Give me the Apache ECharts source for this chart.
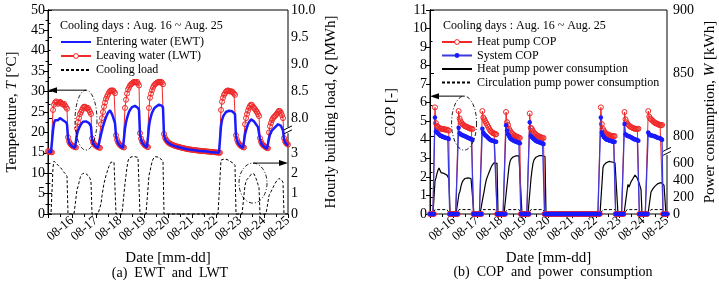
<!DOCTYPE html>
<html><head><meta charset="utf-8">
<script src="https://cdn.jsdelivr.net/npm/echarts@6/dist/echarts.min.js"></script>
<style>html,body{margin:0;padding:0;background:#fff}#c{width:719px;height:288px}</style>
</head><body><div id="c"></div>
<script>
// ---------- tick labels ----------
const dateLabels = ['', '08-16', '08-17', '08-18', '08-19', '08-20', '08-21', '08-22', '08-23', '08-24', '08-25'];
const tempTicks = {min: 0, max: 50, step: 5};
// operating days (index of 24 h block) and first operating hour of each day
const opDays = [0, 1, 2, 3, 4, 7, 8, 9];
const opFirstHour = 5;

// ---------- (a) hourly temperatures, hour 0..240 ----------
const ewt = [
  15.3, 15.2, 15.1, 15.1, 15.0, 20.5, 22.3, 23.0, 23.3, 23.2, 23.0, 23.3, 23.5, 23.4, 23.2, 23.0, 23.2, 22.8, 22.5, 22.0, 18.5, 17.6, 17.1, 16.8,
  16.6, 16.4, 16.3, 16.2, 16.1, 19.5, 20.5, 21.0, 21.5, 22.0, 22.3, 22.6, 22.8, 22.8, 22.7, 22.5, 22.6, 22.3, 22.0, 21.5, 18.2, 17.4, 17.0, 16.7,
  16.5, 16.3, 16.2, 16.1, 16.0, 19.5, 20.5, 21.5, 22.3, 23.0, 23.7, 24.3, 24.8, 25.2, 25.4, 25.0, 24.5, 23.8, 23.0, 22.3, 19.0, 18.0, 17.4, 17.0,
  16.7, 16.5, 16.3, 16.2, 16.1, 21.0, 22.5, 23.5, 24.3, 25.0, 25.5, 25.8, 26.2, 26.4, 26.5, 26.5, 26.3, 26.4, 26.0, 25.5, 19.5, 18.3, 17.6, 17.2,
  16.9, 16.6, 16.5, 16.3, 16.2, 21.5, 23.0, 24.0, 24.8, 25.3, 25.8, 26.0, 26.3, 26.5, 26.7, 26.8, 26.6, 26.8, 26.5, 26.0, 19.3, 18.5, 18.0, 17.7,
  17.5, 17.3, 17.1, 17.0, 16.9, 16.8, 16.7, 16.6, 16.55, 16.5, 16.4, 16.35, 16.3, 16.2, 16.15, 16.1, 16.05, 16.0, 15.95, 15.9, 15.85, 15.8, 15.78, 15.75,
  15.72, 15.7, 15.65, 15.6, 15.58, 15.55, 15.52, 15.5, 15.48, 15.45, 15.42, 15.4, 15.38, 15.35, 15.32, 15.3, 15.28, 15.25, 15.22, 15.2, 15.18, 15.15, 15.12, 15.1,
  15.08, 15.05, 15.03, 15.02, 15.0, 21.5, 23.0, 23.8, 24.3, 24.7, 25.0, 25.2, 25.3, 25.3, 25.2, 25.3, 25.2, 25.0, 24.8, 24.5, 19.0, 18.0, 17.4, 17.0,
  16.7, 16.5, 16.3, 16.2, 16.1, 19.5, 20.5, 21.3, 22.0, 22.5, 22.9, 23.2, 23.3, 23.0, 22.7, 22.4, 22.0, 21.7, 21.3, 21.0, 18.3, 17.5, 17.0, 16.7,
  16.5, 16.3, 16.1, 16.0, 15.9, 18.5, 19.5, 20.0, 20.5, 20.8, 21.0, 21.2, 21.5, 21.8, 22.0, 22.2, 22.0, 21.6, 21.0, 20.5, 18.3, 17.6, 17.2, 17.0,
  16.8
];
const lwt = [
  15.4, 15.3, 15.2, 15.2, 15.1, 25.5, 26.8, 27.3, 27.6, 27.4, 27.0, 27.2, 27.5, 27.3, 27.0, 26.8, 27.0, 26.6, 26.2, 25.8, 18.8, 17.8, 17.3, 17.0,
  16.8, 16.6, 16.5, 16.4, 16.3, 21.0, 22.5, 23.5, 24.5, 25.0, 25.5, 26.0, 26.3, 26.3, 26.0, 25.8, 26.0, 25.5, 25.0, 24.5, 18.5, 17.6, 17.2, 16.9,
  16.7, 16.5, 16.4, 16.3, 16.2, 22.0, 23.5, 25.0, 26.3, 27.3, 28.2, 28.8, 29.3, 29.8, 30.1, 30.3, 30.2, 30.3, 30.0, 29.6, 19.3, 18.2, 17.6, 17.2,
  16.9, 16.7, 16.5, 16.4, 16.3, 26.0, 28.0, 29.5, 30.5, 31.0, 31.5, 31.8, 32.0, 32.2, 32.4, 32.3, 32.2, 32.4, 32.0, 31.5, 19.8, 18.5, 17.8, 17.4,
  17.1, 16.8, 16.7, 16.5, 16.4, 26.0, 28.5, 29.5, 30.3, 31.0, 31.5, 31.8, 32.0, 32.2, 32.3, 32.4, 32.2, 32.4, 32.2, 31.8, 19.6, 18.7, 18.2, 17.9,
  17.6, 17.4, 17.2, 17.1, 17.0, 16.9, 16.8, 16.7, 16.6, 16.55, 16.5, 16.4, 16.35, 16.3, 16.2, 16.15, 16.1, 16.05, 16.0, 15.95, 15.9, 15.85, 15.8, 15.8,
  15.75, 15.72, 15.7, 15.65, 15.6, 15.58, 15.55, 15.52, 15.5, 15.48, 15.45, 15.42, 15.4, 15.38, 15.35, 15.32, 15.3, 15.28, 15.25, 15.22, 15.2, 15.18, 15.15, 15.12,
  15.1, 15.08, 15.05, 15.03, 15.02, 25.5, 27.5, 28.5, 29.2, 29.6, 30.0, 30.2, 30.3, 30.2, 30.0, 30.1, 30.0, 29.8, 29.5, 29.2, 19.3, 18.2, 17.6, 17.2,
  16.9, 16.7, 16.5, 16.4, 16.3, 22.0, 23.5, 24.5, 25.3, 26.0, 26.5, 26.8, 26.7, 26.3, 26.0, 25.7, 25.3, 25.0, 24.5, 24.0, 18.6, 17.7, 17.2, 16.9,
  16.7, 16.5, 16.3, 16.2, 16.1, 20.0, 21.5, 22.3, 23.0, 23.5, 23.8, 24.0, 24.3, 24.6, 25.0, 25.3, 25.2, 24.8, 24.2, 23.5, 18.6, 17.8, 17.4, 17.2,
  17.0
];
// hourly cooling load [MWh] during operating hours (5..19) of each operating day
const coolingLoad = [
  [2.3, 2.6, 2.55, 2.5, 2.45, 2.4, 2.35, 2.3, 2.25, 2.2, 2.1, 2.05, 2.0, 1.92, 1.85],
  [1.2, 1.35, 1.55, 1.75, 1.9, 1.98, 2.0, 2.0, 2.0, 1.98, 1.95, 1.9, 1.85, 1.75, 1.6],
  [0.5, 0.9, 1.2, 1.5, 1.7, 1.9, 2.05, 2.2, 2.35, 2.45, 2.55, 2.6, 2.6, 2.55, 2.5],
  [1.5, 1.9, 2.3, 2.6, 2.75, 2.8, 2.82, 2.82, 2.82, 2.8, 2.82, 2.8, 2.8, 2.78, 2.75],
  [1.9, 2.1, 2.35, 2.55, 2.7, 2.78, 2.82, 2.82, 2.8, 2.8, 2.78, 2.75, 2.7, 2.65, 2.6],
  [2.65, 2.7, 2.7, 2.7, 2.68, 2.7, 2.68, 2.65, 2.65, 2.6, 2.6, 2.55, 2.5, 2.45, 2.4],
  [1.4, 1.6, 1.7, 1.75, 1.8, 1.85, 1.95, 2.0, 2.02, 1.98, 1.9, 1.75, 1.6, 1.45, 1.3],
  [0.9, 1.0, 1.1, 1.2, 1.3, 1.4, 1.5, 1.58, 1.65, 1.7, 1.75, 1.75, 1.7, 1.65, 1.55]
];

// ---------- (b) COP and power during operating hours ----------
const heatPumpCop = [
  [5.75, 4.9, 4.75, 4.7, 4.65, 4.6, 4.6, 4.6, 4.58, 4.58, 4.55, 4.55, 4.55, 4.52, 4.5],
  [5.55, 5.15, 5.0, 4.9, 4.85, 4.8, 4.75, 4.72, 4.7, 4.68, 4.65, 4.62, 4.6, 4.6, 4.58],
  [5.55, 5.2, 5.1, 5.0, 4.9, 4.8, 4.7, 4.6, 4.5, 4.45, 4.4, 4.35, 4.35, 4.3, 4.3],
  [5.5, 4.95, 4.8, 4.6, 4.5, 4.4, 4.35, 4.3, 4.25, 4.2, 4.2, 4.15, 4.15, 4.1, 4.1],
  [5.42, 4.65, 4.6, 4.5, 4.4, 4.35, 4.3, 4.25, 4.2, 4.2, 4.15, 4.15, 4.12, 4.1, 4.1],
  [5.75, 4.85, 4.6, 4.5, 4.4, 4.35, 4.3, 4.3, 4.25, 4.25, 4.2, 4.2, 4.2, 4.2, 4.2],
  [5.5, 5.1, 4.95, 4.85, 4.8, 4.75, 4.7, 4.68, 4.65, 4.62, 4.6, 4.6, 4.58, 4.58, 4.6],
  [5.55, 5.25, 5.15, 5.1, 5.05, 5.0, 4.95, 4.9, 4.9, 4.85, 4.85, 4.8, 4.8, 4.78, 4.8]
];
const systemCop = [
  [5.2, 4.45, 4.4, 4.35, 4.3, 4.25, 4.2, 4.2, 4.15, 4.15, 4.12, 4.1, 4.1, 4.08, 4.05],
  [4.65, 4.35, 4.3, 4.28, 4.25, 4.22, 4.2, 4.18, 4.15, 4.12, 4.1, 4.08, 4.05, 4.03, 4.0],
  [4.6, 4.4, 4.3, 4.25, 4.2, 4.15, 4.1, 4.05, 4.0, 3.98, 3.95, 3.95, 3.92, 3.9, 3.9],
  [4.78, 4.5, 4.3, 4.2, 4.1, 4.05, 4.0, 3.98, 3.95, 3.92, 3.9, 3.88, 3.85, 3.85, 3.82],
  [4.95, 4.2, 4.15, 4.1, 4.05, 4.0, 3.95, 3.92, 3.9, 3.88, 3.85, 3.85, 3.82, 3.8, 3.78],
  [5.2, 4.4, 4.25, 4.15, 4.1, 4.05, 4.0, 4.0, 3.98, 3.95, 3.95, 3.92, 3.9, 3.9, 3.9],
  [4.85, 4.3, 4.25, 4.2, 4.2, 4.18, 4.15, 4.12, 4.1, 4.05, 4.05, 4.0, 4.0, 3.98, 3.95],
  [4.4, 4.3, 4.25, 4.25, 4.22, 4.2, 4.2, 4.18, 4.15, 4.12, 4.1, 4.1, 4.08, 4.05, 4.0]
];
const heatPumpPower = [
  [390, 430, 480, 520, 545, 530, 490, 475, 478, 480, 478, 470, 460, 440, 415],
  [240, 270, 330, 370, 395, 410, 420, 425, 428, 428, 425, 425, 420, 415, 400],
  [200, 260, 330, 390, 430, 460, 490, 520, 550, 575, 595, 605, 610, 605, 600],
  [340, 450, 560, 620, 650, 665, 675, 680, 685, 688, 690, 690, 688, 685, 680],
  [420, 520, 600, 640, 660, 672, 680, 685, 690, 690, 692, 690, 690, 688, 680],
  [550, 580, 595, 605, 612, 618, 622, 622, 620, 615, 612, 608, 605, 600, 595],
  [270, 350, 320, 350, 380, 400, 420, 440, 460, 450, 430, 400, 370, 330, 290],
  [260, 280, 300, 315, 330, 340, 350, 360, 365, 370, 372, 370, 360, 340, 320]
];
const circPumpPower = [52, 52, 52, 52, 52, 52, 52, 52]; // per operating day, constant level [kWh]

// ---------- build hourly [hour, value] lists (0 when the system is off) ----------
function hourlyFromOp(perDay) {
  const out = [];
  for (let h = 0; h <= 240; h++) out.push([h, 0]);
  opDays.forEach((d, i) => {
    const vals = Array.isArray(perDay[i]) ? perDay[i] : new Array(15).fill(perDay[i]);
    vals.forEach((v, j) => { out[24 * d + opFirstHour + j][1] = v; });
  });
  return out;
}
const toPairs = arr => arr.map((v, h) => [h, v]);

const F = '"Liberation Serif", "Times New Roman", serif';
const BLK = '#000';
const RED = '#f02828';
const BLUE = '#1a1aff';

const xBase = {type: 'value', min: 0, max: 240, interval: 24};
function bottomX(g) {
  return Object.assign({}, xBase, {
    gridIndex: g, position: 'bottom',
    name: 'Date [mm-dd]', nameLocation: 'middle', nameGap: 34,
    nameTextStyle: {fontFamily: F, fontSize: 15, color: BLK},
    axisLine: {show: false},
    axisTick: {show: true, length: 4, lineStyle: {color: BLK}},
    minorTick: {show: true, splitNumber: 2, length: 2.5, lineStyle: {color: BLK}},
    splitLine: {show: false},
    axisLabel: {fontFamily: F, fontSize: 13, color: BLK, rotate: 40, margin: 5,
      formatter: v => dateLabels[Math.round(v / 24)] || ''}
  });
}
function topX(g) {
  return Object.assign({}, xBase, {
    gridIndex: g, position: 'top', axisLine: {show: false}, axisLabel: {show: false},
    axisTick: {show: true, inside: true, length: 3, lineStyle: {color: BLK}},
    minorTick: {show: true, splitNumber: 2, length: 3, lineStyle: {color: BLK}},
    splitLine: {show: false}
  });
}
function hiddenX(g) { return Object.assign({}, xBase, {gridIndex: g, show: false}); }

const nameStyle = {fontFamily: F, fontSize: 15, color: BLK, rich: {i: {fontFamily: F, fontSize: 15, fontStyle: 'italic', color: BLK}}};
function yAx(g, pos, min, max, interval, minor, fmt, extra) {
  return Object.assign({
    type: 'value', gridIndex: g, position: pos, min: min, max: max, interval: interval,
    axisLine: {show: true, lineStyle: {color: BLK}},
    axisTick: {show: true, length: 4, lineStyle: {color: BLK}},
    minorTick: {show: minor > 0, splitNumber: minor || 1, length: 2.5, lineStyle: {color: BLK}},
    splitLine: {show: false},
    axisLabel: {fontFamily: F, fontSize: 14, color: BLK, margin: 3, formatter: fmt}
  }, extra || {});
}
function nameAx(g, pos, name, gap) {
  return {
    type: 'value', gridIndex: g, position: pos, min: 0, max: 1,
    axisLine: {show: false}, axisTick: {show: false}, axisLabel: {show: false}, splitLine: {show: false},
    name: name, nameLocation: 'middle', nameGap: gap, nameRotate: 90, nameTextStyle: nameStyle
  };
}
const noSym = {itemStyle: {color: 'rgba(0,0,0,0)', borderColor: 'rgba(0,0,0,0)', borderWidth: 0, opacity: 0}};
const hollowSym = {itemStyle: {color: '#fff', borderColor: RED, borderWidth: 1}};

const option = {
  animation: false,
  backgroundColor: '#fff',
  textStyle: {fontFamily: F},
  grid: [
    {left: 48, top: 10, width: 240, height: 204, show: true, borderColor: BLK, borderWidth: 1},
    {left: 48, top: 10, width: 240, height: 108},
    {left: 48, top: 153, width: 240, height: 61},
    {left: 430, top: 10, width: 240, height: 204, show: true, borderColor: BLK, borderWidth: 1},
    {left: 430, top: 10, width: 240, height: 126.7},
    {left: 430, top: 163.3, width: 240, height: 50.7}
  ],
  xAxis: [bottomX(0), topX(0), hiddenX(1), hiddenX(2), bottomX(3), topX(3), hiddenX(4), hiddenX(5)],
  yAxis: [
    yAx(0, 'left', tempTicks.min, tempTicks.max, tempTicks.step, 2, null, {
      name: 'Temperature, {i|T} [°C]', nameLocation: 'middle', nameGap: 28, nameRotate: 90, nameTextStyle: nameStyle
    }),
    yAx(1, 'right', 8, 10, 0.5, 2, v => v.toFixed(1)),
    yAx(2, 'right', 0, 3, 1, 2, null),
    nameAx(0, 'right', 'Hourly building load, {i|Q} [MWh]', 36),
    yAx(3, 'left', 0, 11, 1, 0, null, {
      name: 'COP [-]', nameLocation: 'middle', nameGap: 31, nameRotate: 90, nameTextStyle: nameStyle
    }),
    yAx(4, 'right', 800, 900, 50, 2, null),
    yAx(5, 'right', 0, 600, 200, 2, null),
    nameAx(3, 'right', 'Power consumption, {i|W} [kWh]', 36)
  ],
  title: [
    {text: 'Cooling days : Aug. 16 ~ Aug. 25', left: 55, top: 15, textStyle: {fontFamily: F, fontSize: 12, fontWeight: 'normal', color: BLK}},
    {text: 'Cooling days : Aug. 16 ~ Aug. 25', left: 438, top: 15, textStyle: {fontFamily: F, fontSize: 12, fontWeight: 'normal', color: BLK}}
  ],
  legend: [
    {orient: 'vertical', left: 55, top: 31, itemWidth: 30, itemHeight: 6, itemGap: 2,
      textStyle: {fontFamily: F, fontSize: 12, color: BLK},
      data: [
        Object.assign({name: 'Entering water (EWT)'}, noSym),
        Object.assign({name: 'Leaving water (LWT)'}, hollowSym),
        Object.assign({name: 'Cooling load', lineStyle: {type: [3, 2]}}, noSym)
      ]},
    {orient: 'vertical', left: 436, top: 31, itemWidth: 30, itemHeight: 6, itemGap: 1.5,
      textStyle: {fontFamily: F, fontSize: 12, color: BLK},
      data: [
        Object.assign({name: 'Heat pump COP'}, hollowSym),
        {name: 'System COP'},
        Object.assign({name: 'Heat pump power consumption'}, noSym),
        Object.assign({name: 'Circulation pump power consumption', lineStyle: {type: [3, 2]}}, noSym)
      ]}
  ],
  series: [
    {name: 'Leaving water (LWT)', type: 'line', xAxisIndex: 0, yAxisIndex: 0, data: toPairs(lwt),
      symbol: 'circle', symbolSize: 5, z: 2,
      itemStyle: {color: 'rgba(255,255,255,0)', borderColor: RED, borderWidth: 1},
      lineStyle: {color: RED, width: 1}},
    {name: 'Entering water (EWT)', type: 'line', xAxisIndex: 0, yAxisIndex: 0, data: toPairs(ewt),
      symbol: 'none', z: 3, itemStyle: {color: BLUE}, lineStyle: {color: BLUE, width: 2.5}},
    {name: 'Cooling load', type: 'line', xAxisIndex: 3, yAxisIndex: 2, data: hourlyFromOp(coolingLoad),
      symbol: 'none', clip: false, itemStyle: {color: BLK}, lineStyle: {color: BLK, width: 1, type: [3, 2]}},
    {name: 'Heat pump power consumption', type: 'line', xAxisIndex: 7, yAxisIndex: 6, data: hourlyFromOp(heatPumpPower),
      symbol: 'none', clip: false, itemStyle: {color: BLK}, lineStyle: {color: BLK, width: 1.2}},
    {name: 'Circulation pump power consumption', type: 'line', xAxisIndex: 7, yAxisIndex: 6, data: hourlyFromOp(circPumpPower),
      symbol: 'none', clip: false, itemStyle: {color: BLK}, lineStyle: {color: BLK, width: 1, type: [3, 2]}},
    {name: 'Heat pump COP', type: 'line', xAxisIndex: 4, yAxisIndex: 4, data: hourlyFromOp(heatPumpCop),
      symbol: 'circle', symbolSize: 5,
      itemStyle: {color: 'rgba(255,255,255,0)', borderColor: RED, borderWidth: 1},
      lineStyle: {color: RED, width: 1}},
    {name: 'System COP', type: 'line', xAxisIndex: 4, yAxisIndex: 4, data: hourlyFromOp(systemCop),
      symbol: 'circle', symbolSize: 4.5, itemStyle: {color: BLUE}, lineStyle: {color: '#3a3ae0', width: 1.3}}
  ]
};

const chart = echarts.init(document.getElementById('c'));
chart.setOption(option);

// ---------- annotations (ellipses, arrows, axis breaks) ----------
function ellipse(cx, cy, rx, ry) {
  const pts = [];
  for (let i = 0; i < 60; i++) { const a = i / 60 * 2 * Math.PI; pts.push([cx + rx * Math.cos(a), cy + ry * Math.sin(a)]); }
  return {type: 'polygon', z: 50, shape: {points: pts}, style: {fill: 'none', stroke: BLK, lineWidth: 0.9, lineDash: [4, 2, 1, 2]}};
}
function arrow(x1, x2, y) { // arrowhead at x2
  const dir = x2 < x1 ? 1 : -1;
  return [
    {type: 'line', z: 50, shape: {x1: x1, y1: y, x2: x2 + dir * 6, y2: y}, style: {stroke: BLK, lineWidth: 1}},
    {type: 'polygon', z: 50, shape: {points: [[x2, y], [x2 + dir * 9, y - 3], [x2 + dir * 9, y + 3]]}, style: {fill: BLK}}
  ];
}
function brk(x, y) {
  return [
    {type: 'rect', z: 60, shape: {x: x - 2, y: y - 3, width: 4, height: 6}, style: {fill: '#fff'}},
    {type: 'line', z: 61, shape: {x1: x - 4, y1: y - 0.5, x2: x + 4, y2: y - 4.5}, style: {stroke: BLK, lineWidth: 1}},
    {type: 'line', z: 61, shape: {x1: x - 4, y1: y + 3.5, x2: x + 4, y2: y - 0.5}, style: {stroke: BLK, lineWidth: 1}}
  ];
}
const g = [];
const pA = chart.convertToPixel({xAxisIndex: 0, yAxisIndex: 0}, [38, 23]);
const leftA = chart.convertToPixel({xAxisIndex: 0}, 0);
g.push(ellipse(pA[0], pA[1], 11, 30));
g.push(...arrow(pA[0], leftA, pA[1] - 30));
const pB = chart.convertToPixel({xAxisIndex: 3, yAxisIndex: 2}, [205, 1.52]);
const rightB = chart.convertToPixel({xAxisIndex: 3}, 240);
g.push(ellipse(pB[0], pB[1], 14, 20));
g.push(...arrow(pB[0], rightB, pB[1] - 20));
const pC = chart.convertToPixel({xAxisIndex: 4, yAxisIndex: 4}, [34.5, 4.9]);
const leftC = chart.convertToPixel({xAxisIndex: 4}, 0);
g.push(ellipse(pC[0], pC[1], 12.5, 27));
g.push(...arrow(pC[0], leftC, pC[1] - 27));
g.push(...brk(rightB, chart.convertToPixel({xAxisIndex: 0, yAxisIndex: 0}, [0, 20.5])[1]));
g.push(...brk(chart.convertToPixel({xAxisIndex: 4}, 240), chart.convertToPixel({xAxisIndex: 4, yAxisIndex: 4}, [0, 3.35])[1]));
g.push({type: 'text', z: 50, x: 170, y: 273, style: {text: '(a)  EWT  and  LWT', font: '14px ' + F, fill: BLK, align: 'center', verticalAlign: 'middle', textAlign: 'center', textVerticalAlign: 'middle'}});
g.push({type: 'text', z: 50, x: 553, y: 272, style: {text: '(b)  COP  and  power  consumption', font: '14px ' + F, fill: BLK, align: 'center', verticalAlign: 'middle', textAlign: 'center', textVerticalAlign: 'middle'}});
chart.setOption({graphic: g});
</script>
</body></html>
